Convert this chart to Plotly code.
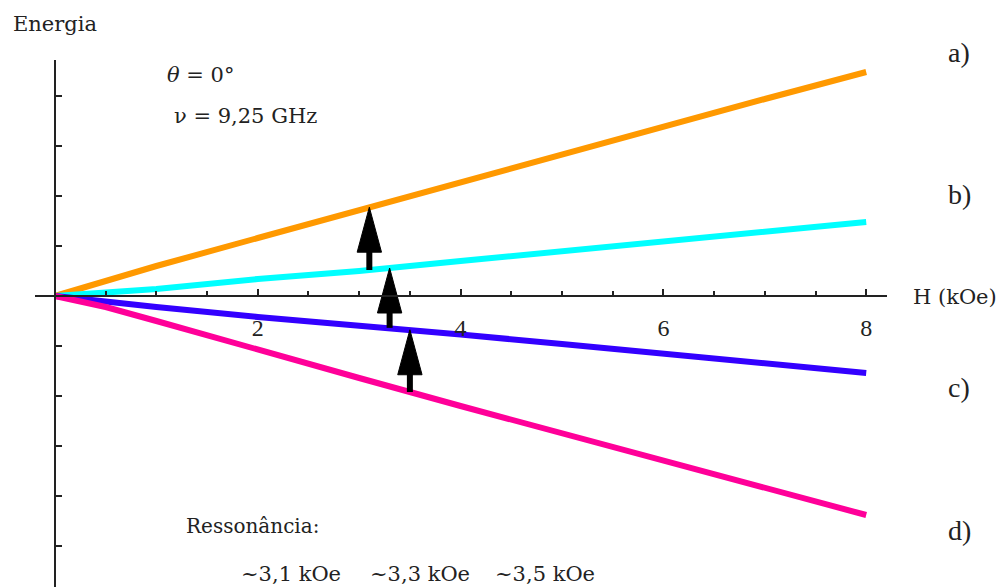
import numpy as np
import plotly.graph_objects as go

# Magnetic field (kOe) and the four energy levels (arbitrary units)
field_kOe = [0, 0.5, 1, 2, 3, 4, 5, 6, 7, 8]
level_a = [0, 0.30, 0.60, 1.16, 1.72, 2.28, 2.84, 3.38, 3.94, 4.48]
level_b = [0, 0.06, 0.14, 0.34, 0.50, 0.70, 0.90, 1.10, 1.28, 1.48]
level_c = [0, -0.12, -0.22, -0.42, -0.58, -0.77, -0.96, -1.16, -1.35, -1.54]
level_d = [0, -0.22, -0.50, -1.08, -1.64, -2.20, -2.74, -3.30, -3.84, -4.38]

# Resonance fields (kOe) and the transitions they connect (lower -> upper)
resonance_kOe = [3.1, 3.3, 3.5]
transitions = [("b", "a"), ("c", "b"), ("d", "c")]

x_ticks = [2, 4, 6, 8]
level_names = ["a)", "b)", "c)", "d)"]

levels = {"a": level_a, "b": level_b, "c": level_c, "d": level_d}
colors = {"a": "#FF9900", "b": "#00FFFF", "c": "#3300FF", "d": "#FF0099"}

W, H = 1005, 587
L, R, T, B = 35, 118, 60, 0
x_range = [-0.197, 8.205]
y_range = [-5.82, 4.72]


def px_x(p):
    return (p - L) / (W - L - R)


def px_y(p):
    return (H - B - p) / (H - T - B)


fig = go.Figure()

for key in ["a", "b", "c", "d"]:
    fig.add_trace(go.Scatter(
        x=field_kOe, y=levels[key], mode="lines",
        line=dict(color=colors[key], width=6),
        hoverinfo="skip", showlegend=False))

# Transition arrows: shaft plus a tall narrow head ending on the upper level
head_h = 0.9      # head length in energy units
head_hw = 0.12    # head half-width in kOe
for h, (lo, hi) in zip(resonance_kOe, transitions):
    y0 = float(np.interp(h, field_kOe, levels[lo]))
    y1 = float(np.interp(h, field_kOe, levels[hi]))
    fig.add_trace(go.Scatter(
        x=[h, h], y=[y0, y1 - head_h * 0.5], mode="lines",
        line=dict(color="black", width=6),
        hoverinfo="skip", showlegend=False))
    fig.add_trace(go.Scatter(
        x=[h - head_hw, h + head_hw, h, h - head_hw],
        y=[y1 - head_h, y1 - head_h, y1, y1 - head_h],
        mode="lines", fill="toself", fillcolor="black",
        line=dict(color="black", width=1),
        hoverinfo="skip", showlegend=False))

serif = "DejaVu Serif"
times = "Liberation Serif"

fig.update_layout(
    width=W, height=H,
    margin=dict(l=L, r=R, t=T, b=B),
    paper_bgcolor="white", plot_bgcolor="white",
    xaxis=dict(
        range=x_range, anchor="free",
        position=(0 - y_range[0]) / (y_range[1] - y_range[0]),
        showline=True, linecolor="#222", linewidth=1.5,
        showgrid=False, zeroline=False,
        tickvals=x_ticks, ticks="inside", ticklen=6, tickwidth=1.5,
        tickcolor="#222", ticklabelstandoff=10,
        tickfont=dict(family=times, size=24, color="#222"),
        minor=dict(dtick=0.5, tick0=0, ticks="inside", ticklen=4,
                   tickwidth=1.5, tickcolor="#222", showgrid=False),
    ),
    yaxis=dict(
        range=y_range, anchor="free",
        position=(0 - x_range[0]) / (x_range[1] - x_range[0]),
        showline=True, linecolor="#222", linewidth=1.5,
        showgrid=False, zeroline=False,
        tick0=0, dtick=1, ticks="inside", ticklen=6, tickwidth=1.5,
        tickcolor="#222", showticklabels=False,
    ),
)

ann = []


def text(s, x, y, family=serif, size=21, xanchor="left"):
    ann.append(dict(text=s, x=px_x(x), y=px_y(y), xref="paper", yref="paper",
                    xanchor=xanchor, yanchor="middle", showarrow=False,
                    font=dict(family=family, size=size, color="#222")))


text("Energia", 55, 24, xanchor="center")
text("<i>θ</i> = 0°", 165, 75)
text("ν = 9,25 GHz", 172, 116)
text("H (kOe)", 911, 297)
text("Ressonância:", 184, 526, size=20)
for h, cx in zip(resonance_kOe, [291, 420, 545]):
    text("~" + f"{h:.1f}".replace(".", ",") + " kOe", cx, 574, xanchor="center")
for name, y in zip(level_names, [52, 194, 387, 530]):
    text(name, 946, y, family=times, size=28)

fig.update_layout(annotations=ann)
fig.write_html("out.html")
